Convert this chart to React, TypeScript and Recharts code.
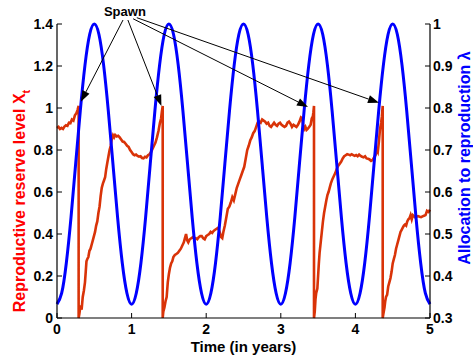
import React from 'react';
import { LineChart, Line, XAxis, YAxis, ReferenceLine, ReferenceDot } from 'recharts';

// reproductive reserve X_t (left axis)
const redT = [
  0, 0.02, 0.04, 0.06, 0.08, 0.1, 0.12, 0.14, 0.16, 0.18, 0.2, 0.22, 0.24, 0.26, 0.275, 0.29,
  0.29, 0.3, 0.315, 0.33, 0.345, 0.36, 0.375, 0.385, 0.395, 0.405, 0.42, 0.435, 0.45, 0.465, 0.48, 0.495,
  0.51, 0.525, 0.54, 0.555, 0.57, 0.585, 0.6, 0.615, 0.63, 0.645, 0.66, 0.675, 0.69, 0.705, 0.72, 0.735,
  0.75, 0.765, 0.78, 0.8, 0.82, 0.84, 0.86, 0.88, 0.9, 0.92, 0.94, 0.96, 0.98, 1.0, 1.02, 1.04,
  1.06, 1.08, 1.1, 1.12, 1.14, 1.16, 1.18, 1.2, 1.22, 1.24, 1.26, 1.28, 1.3, 1.32, 1.34, 1.36,
  1.38, 1.395, 1.405, 1.417,
  1.417, 1.425, 1.44, 1.455, 1.47, 1.485, 1.5, 1.515, 1.53, 1.545, 1.56, 1.58, 1.6, 1.62, 1.64, 1.66,
  1.68, 1.7, 1.715, 1.73, 1.745, 1.76, 1.78, 1.8, 1.82, 1.84, 1.86, 1.88, 1.9, 1.92, 1.94, 1.96,
  1.98, 2.0, 2.02, 2.04, 2.06, 2.08, 2.1, 2.12, 2.14, 2.16, 2.18, 2.2, 2.215, 2.23, 2.25, 2.27,
  2.29, 2.31, 2.33, 2.35, 2.37, 2.39, 2.41, 2.43, 2.45, 2.47, 2.49, 2.51, 2.53, 2.55, 2.57, 2.59,
  2.61, 2.63, 2.65, 2.67, 2.69, 2.71, 2.73, 2.75, 2.77, 2.79, 2.81, 2.83, 2.85, 2.87, 2.89, 2.91,
  2.93, 2.95, 2.97, 2.99, 3.01, 3.03, 3.05, 3.07, 3.09, 3.11, 3.13, 3.15, 3.17, 3.19, 3.21, 3.23,
  3.25, 3.27, 3.285, 3.3, 3.315, 3.33, 3.345, 3.36, 3.38, 3.4, 3.415, 3.43, 3.437, 3.445,
  3.445, 3.455, 3.465, 3.475, 3.49, 3.5, 3.51, 3.52, 3.535, 3.55, 3.565, 3.58, 3.595, 3.61, 3.625, 3.64,
  3.655, 3.67, 3.69, 3.71, 3.73, 3.75, 3.77, 3.79, 3.81, 3.83, 3.85, 3.87, 3.89, 3.91, 3.93, 3.95,
  3.97, 3.99, 4.01, 4.03, 4.05, 4.07, 4.09, 4.11, 4.13, 4.15, 4.17, 4.19, 4.21, 4.23, 4.25, 4.27,
  4.285, 4.3, 4.315, 4.33, 4.345, 4.355, 4.366,
  4.366, 4.375, 4.39, 4.4, 4.41, 4.425, 4.44, 4.455, 4.47, 4.485, 4.5, 4.515, 4.53, 4.545, 4.56, 4.575,
  4.59, 4.605, 4.62, 4.635, 4.65, 4.665, 4.68, 4.695, 4.71, 4.725, 4.74, 4.755, 4.77, 4.785, 4.8, 4.82,
  4.84, 4.86, 4.88, 4.9, 4.92, 4.94, 4.96, 4.98, 5.0,
];
const redX = [
  0.905, 0.91, 0.9, 0.905, 0.9, 0.912, 0.918, 0.915, 0.93, 0.928, 0.945, 0.94, 0.965, 0.975, 0.99, 1.01,
  0, 0.02, 0.06, 0.04, 0.1, 0.13, 0.17, 0.22, 0.27, 0.28, 0.29, 0.32, 0.33, 0.35, 0.37, 0.39,
  0.41, 0.44, 0.46, 0.5, 0.53, 0.58, 0.62, 0.64, 0.655, 0.67, 0.71, 0.74, 0.77, 0.8, 0.82, 0.855,
  0.87, 0.86, 0.872, 0.865, 0.868, 0.86, 0.85, 0.84, 0.838, 0.83, 0.82, 0.815, 0.8, 0.79, 0.78, 0.775,
  0.778, 0.772, 0.768, 0.77, 0.762, 0.76, 0.768, 0.765, 0.775, 0.78, 0.79, 0.805, 0.82, 0.835, 0.86, 0.89,
  0.93, 0.95, 0.98, 1.01,
  0, 0.03, 0.05, 0.08, 0.1, 0.17, 0.21, 0.24, 0.26, 0.27, 0.29, 0.3, 0.305, 0.31, 0.32, 0.33,
  0.345, 0.36, 0.38, 0.4, 0.37, 0.36, 0.375, 0.38, 0.385, 0.378, 0.38, 0.375, 0.385, 0.39, 0.39, 0.38,
  0.375, 0.39, 0.395, 0.4, 0.41, 0.405, 0.415, 0.42, 0.425, 0.43, 0.41, 0.385, 0.38, 0.41, 0.44, 0.48,
  0.52, 0.53, 0.55, 0.575, 0.56, 0.59, 0.62, 0.64, 0.66, 0.68, 0.7, 0.72, 0.76, 0.8, 0.82, 0.845,
  0.86, 0.88, 0.89, 0.91, 0.93, 0.935, 0.93, 0.945, 0.94, 0.935, 0.925, 0.93, 0.915, 0.91, 0.92, 0.93,
  0.92, 0.915, 0.925, 0.93, 0.92, 0.915, 0.91, 0.915, 0.93, 0.935, 0.925, 0.91, 0.92, 0.915, 0.91, 0.92,
  0.935, 0.955, 0.95, 0.92, 0.9, 0.91, 0.895, 0.9, 0.91, 0.92, 0.95, 0.96, 0.98, 1.01,
  0, 0.03, 0.09, 0.12, 0.14, 0.2, 0.26, 0.31, 0.36, 0.41, 0.46, 0.5, 0.53, 0.56, 0.585, 0.6,
  0.62, 0.64, 0.66, 0.675, 0.69, 0.71, 0.725, 0.735, 0.745, 0.76, 0.77, 0.775, 0.78, 0.778, 0.775, 0.78,
  0.776, 0.772, 0.776, 0.77, 0.778, 0.772, 0.768, 0.765, 0.77, 0.76, 0.758, 0.755, 0.748, 0.752, 0.765, 0.775,
  0.8, 0.79, 0.84, 0.9, 0.93, 0.96, 1.01,
  0, 0.02, 0.05, 0.08, 0.1, 0.11, 0.15, 0.17, 0.19, 0.22, 0.26, 0.28, 0.3, 0.33, 0.35, 0.37,
  0.39, 0.41, 0.42, 0.43, 0.44, 0.445, 0.44, 0.46, 0.47, 0.475, 0.49, 0.47, 0.49, 0.485, 0.48, 0.482,
  0.485, 0.482, 0.48, 0.484, 0.487, 0.49, 0.51, 0.505, 0.515,
];

// allocation to reproduction lambda (right axis), sampled every 1/16 year
const blueT = [
  0, 0.0625, 0.125, 0.1875, 0.25, 0.3125, 0.375, 0.4375, 0.5, 0.5625, 0.625, 0.6875, 0.75, 0.8125, 0.875, 0.9375,
  1, 1.0625, 1.125, 1.1875, 1.25, 1.3125, 1.375, 1.4375, 1.5, 1.5625, 1.625, 1.6875, 1.75, 1.8125, 1.875, 1.9375,
  2, 2.0625, 2.125, 2.1875, 2.25, 2.3125, 2.375, 2.4375, 2.5, 2.5625, 2.625, 2.6875, 2.75, 2.8125, 2.875, 2.9375,
  3, 3.0625, 3.125, 3.1875, 3.25, 3.3125, 3.375, 3.4375, 3.5, 3.5625, 3.625, 3.6875, 3.75, 3.8125, 3.875, 3.9375,
  4, 4.0625, 4.125, 4.1875, 4.25, 4.3125, 4.375, 4.4375, 4.5, 4.5625, 4.625, 4.6875, 4.75, 4.8125, 4.875, 4.9375,
  5,
];
const blueLam = [
  0.333, 0.359, 0.431, 0.539, 0.667, 0.794, 0.902, 0.975, 1.0, 0.975, 0.902, 0.794, 0.667, 0.539, 0.431, 0.359,
  0.333, 0.359, 0.431, 0.539, 0.667, 0.794, 0.902, 0.975, 1.0, 0.975, 0.902, 0.794, 0.667, 0.539, 0.431, 0.359,
  0.333, 0.359, 0.431, 0.539, 0.667, 0.794, 0.902, 0.975, 1.0, 0.975, 0.902, 0.794, 0.667, 0.539, 0.431, 0.359,
  0.333, 0.359, 0.431, 0.539, 0.667, 0.794, 0.902, 0.975, 1.0, 0.975, 0.902, 0.794, 0.667, 0.539, 0.431, 0.359,
  0.333, 0.359, 0.431, 0.539, 0.667, 0.794, 0.902, 0.975, 1.0, 0.975, 0.902, 0.794, 0.667, 0.539, 0.431, 0.359,
  0.333,
];

const xTicks = [0, 1, 2, 3, 4, 5];
const leftTicks = [0, 0.2, 0.4, 0.6, 0.8, 1, 1.2, 1.4];
const rightTicks = [0.3, 0.4, 0.5, 0.6, 0.7, 0.8, 0.9, 1];

// "Spawn" annotation: arrow start and tip (t, X)
const arrowFromT = [0.885, 0.95, 1.02, 1.07];
const arrowFromX = [1.419, 1.419, 1.425, 1.43];
const arrowToT = [0.32, 1.4, 3.365, 4.316];
const arrowToX = [1.03, 1.01, 1.005, 1.025];

const redData = redT.map((t, i) => ({ t, x: redX[i] }));
const blueData = blueT.map((t, i) => ({ t, lam: blueLam[i] }));

const FONT = '"Liberation Sans", Arial, sans-serif';
const RED = '#d93308';

const fmt = (v: number) => String(Number(v.toFixed(1)));

const LeftTick = (p: any) => (
  <g>
    <line x1={p.x} y1={p.y} x2={p.x + 5} y2={p.y} stroke="#000" strokeWidth={1} />
    <text x={p.x - 4} y={p.y + 5} textAnchor="end" fontFamily={FONT} fontWeight="bold" fontSize={14} fill="#000">
      {fmt(p.payload.value)}
    </text>
  </g>
);

const RightTick = (p: any) => (
  <g>
    <line x1={p.x} y1={p.y} x2={p.x - 5} y2={p.y} stroke="#000" strokeWidth={1} />
    <text x={p.x + 3} y={p.y + 5} textAnchor="start" fontFamily={FONT} fontWeight="bold" fontSize={14} fill="#000">
      {fmt(p.payload.value)}
    </text>
  </g>
);

const BottomTick = (p: any) => (
  <g>
    <line x1={p.x} y1={p.y} x2={p.x} y2={p.y - 5} stroke="#000" strokeWidth={1} />
    <text x={p.x} y={p.y + 16} textAnchor="middle" fontFamily={FONT} fontWeight="bold" fontSize={14} fill="#000">
      {p.payload.value}
    </text>
  </g>
);

const TopTick = (p: any) => (
  <line x1={p.x} y1={p.y} x2={p.x} y2={p.y + 5} stroke="#000" strokeWidth={1} />
);

const Arrow = (p: any) => {
  const { x1, y1, x2, y2 } = p;
  const a = Math.atan2(y2 - y1, x2 - x1);
  const L = 11;
  const W = 4;
  const bx = x2 - L * Math.cos(a);
  const by = y2 - L * Math.sin(a);
  const px = -Math.sin(a) * W;
  const py = Math.cos(a) * W;
  return (
    <g>
      <line x1={x1} y1={y1} x2={bx} y2={by} stroke="#000" strokeWidth={1} />
      <polygon points={`${x2},${y2} ${bx + px},${by + py} ${bx - px},${by - py}`} fill="#000" />
    </g>
  );
};

export default function App() {
  return (
    <div style={{ position: 'absolute', left: 0, top: 0, width: 473, height: 355, background: '#fff' }}>
      <LineChart width={473} height={355} margin={{ top: 24, right: 0, bottom: 0, left: 0 }}>
        <XAxis
          xAxisId="b"
          type="number"
          dataKey="t"
          domain={[0, 5]}
          ticks={xTicks}
          height={37}
          tickSize={0}
          tickMargin={0}
          tickLine={false}
          axisLine={{ stroke: '#000', strokeWidth: 1.2 }}
          tick={<BottomTick />}
          label={{
            content: (p: any) => (
              <text x={p.viewBox.x + p.viewBox.width / 2} y={352} textAnchor="middle"
                fontFamily={FONT} fontWeight="bold" fontSize={15} fill="#000">
                Time (in years)
              </text>
            ),
          }}
        />
        <XAxis
          xAxisId="t"
          orientation="top"
          type="number"
          dataKey="t"
          domain={[0, 5]}
          ticks={xTicks}
          height={0}
          tickSize={0}
          tickMargin={0}
          tickLine={false}
          axisLine={{ stroke: '#000', strokeWidth: 1.2 }}
          tick={<TopTick />}
        />
        <YAxis
          yAxisId="left"
          type="number"
          domain={[0, 1.4]}
          ticks={leftTicks}
          width={57}
          tickSize={0}
          tickMargin={0}
          tickLine={false}
          axisLine={{ stroke: '#000', strokeWidth: 1.2 }}
          tick={<LeftTick />}
          label={{
            content: () => (
              <text transform="translate(25,201) rotate(-90)" textAnchor="middle"
                fontFamily={FONT} fontWeight="bold" fontSize={16} fill="#ff0000">
                Reproductive reserve level X<tspan fontSize={11} dy={5}>t</tspan>
              </text>
            ),
          }}
        />
        <YAxis
          yAxisId="right"
          orientation="right"
          type="number"
          domain={[0.3, 1]}
          ticks={rightTicks}
          width={43}
          tickSize={0}
          tickMargin={0}
          tickLine={false}
          axisLine={{ stroke: '#000', strokeWidth: 1.2 }}
          tick={<RightTick />}
          label={{
            content: () => (
              <text transform="translate(470,158) rotate(-90)" textAnchor="middle"
                fontFamily={FONT} fontWeight="bold" fontSize={16} fill="#0000ff">
                Allocation to reproduction λ
              </text>
            ),
          }}
        />
        <Line
          xAxisId="b"
          yAxisId="left"
          data={redData}
          dataKey="x"
          type="linear"
          stroke={RED}
          strokeWidth={2.6}
          dot={false}
          activeDot={false}
          isAnimationActive={false}
        />
        <Line
          xAxisId="b"
          yAxisId="right"
          data={blueData}
          dataKey="lam"
          type="natural"
          stroke="#0000ff"
          strokeWidth={3}
          dot={false}
          activeDot={false}
          isAnimationActive={false}
        />
        {arrowToT.map((t, i) => (
          <ReferenceLine
            key={i}
            xAxisId="b"
            yAxisId="left"
            ifOverflow="visible"
            segment={[{ x: arrowFromT[i], y: arrowFromX[i] }, { x: t, y: arrowToX[i] }]}
            shape={Arrow}
          />
        ))}
        <ReferenceDot
          xAxisId="b"
          yAxisId="left"
          x={0.91}
          y={1.438}
          r={0}
          ifOverflow="visible"
          shape={(p: any) => (
            <text x={p.cx} y={p.cy} textAnchor="middle" fontFamily={FONT} fontWeight="bold" fontSize={13} fill="#000">
              Spawn
            </text>
          )}
        />
      </LineChart>
    </div>
  );
}
